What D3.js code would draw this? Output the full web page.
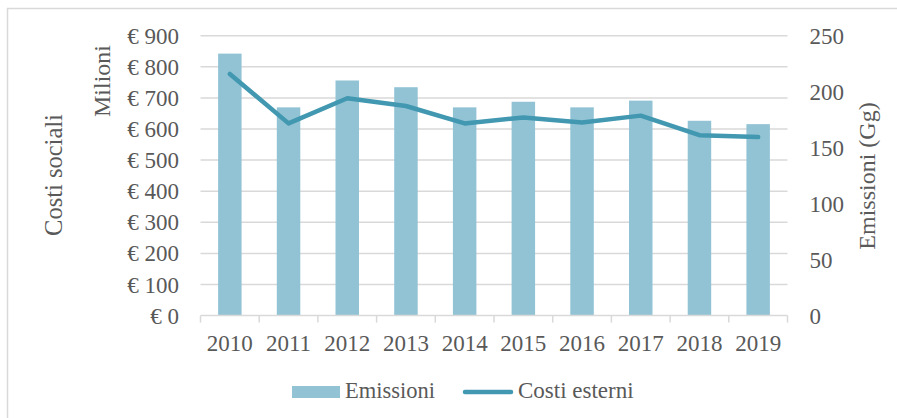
<!DOCTYPE html>
<html>
<head>
<meta charset="utf-8">
<script src="https://cdn.jsdelivr.net/npm/d3@7"></script>
<style>
  html, body { margin: 0; padding: 0; background: #fff; overflow: hidden; }
  svg { display: block; }
  text { font-family: "Liberation Serif", "Times New Roman", serif; fill: #595959; }
</style>
</head>
<body>
<svg id="chart" width="897" height="418"></svg>
<script>
// Annual data
const years = ["2010","2011","2012","2013","2014","2015","2016","2017","2018","2019"];
const emissioni = [234, 186, 210, 204, 186, 191, 186, 192, 174, 171];      // Gg
const costiEsterni = [777, 618, 699, 674, 618, 637, 621, 643, 580, 574];   // € milioni
const leftTicks = [0, 100, 200, 300, 400, 500, 600, 700, 800, 900];
const rightTicks = [0, 50, 100, 150, 200, 250];

const barColor = "#92c3d5";
const lineColor = "#4198b0";
const gridColor = "#d9d9d9";

const svg = d3.select("#chart");
const W = 897, H = 418;
const m = { left: 200.5, right: 109.5, top: 35.7, bottom: 102.4 };
const plotW = W - m.left - m.right;
const plotH = H - m.top - m.bottom;

// chart frame (runs past the right and bottom edges of the view)
svg.append("rect")
  .attr("x", 7.5).attr("y", 8.5).attr("width", 1000).attr("height", 1000)
  .attr("fill", "#fff").attr("stroke", gridColor).attr("stroke-width", 1.5);

const g = svg.append("g").attr("transform", `translate(${m.left},${m.top})`);

const x = d3.scaleBand().domain(years).range([0, plotW]).paddingInner(0.6).paddingOuter(0.3);
const xBand = d3.scaleBand().domain(years).range([0, plotW]);
const yL = d3.scaleLinear().domain([0, 900]).range([plotH, 0]);
const yR = d3.scaleLinear().domain([0, 250]).range([plotH, 0]);

// horizontal gridlines (left axis)
g.append("g").selectAll("line").data(leftTicks.filter(d => d > 0)).join("line")
  .attr("x1", 0).attr("x2", plotW)
  .attr("y1", d => yL(d)).attr("y2", d => yL(d))
  .attr("stroke", gridColor).attr("stroke-width", 1.5);

// bars: emissions on right axis
g.append("g").selectAll("rect").data(years).join("rect")
  .attr("x", d => x(d))
  .attr("width", x.bandwidth())
  .attr("y", (d, i) => yR(emissioni[i]))
  .attr("height", (d, i) => plotH - yR(emissioni[i]))
  .attr("fill", barColor);

// x axis line and category ticks
const xAxis = g.append("g").attr("transform", `translate(0,${plotH})`);
xAxis.append("line").attr("x1", 0).attr("x2", plotW).attr("y1", 0).attr("y2", 0)
  .attr("stroke", gridColor).attr("stroke-width", 1.5);
const boundaries = years.map(d => xBand(d)).concat([plotW]);
xAxis.selectAll("line.tick").data(boundaries).join("line").attr("class", "tick")
  .attr("x1", d => d).attr("x2", d => d).attr("y1", 0).attr("y2", 7)
  .attr("stroke", gridColor).attr("stroke-width", 1.5);
xAxis.selectAll("text").data(years).join("text")
  .attr("x", d => xBand(d) + xBand.bandwidth() / 2)
  .attr("y", 35.5)
  .attr("text-anchor", "middle")
  .attr("font-size", 23)
  .text(d => d);

// line: external costs on left axis
const line = d3.line()
  .x((d, i) => xBand(years[i]) + xBand.bandwidth() / 2)
  .y(d => yL(d));
g.append("path").datum(costiEsterni)
  .attr("d", line)
  .attr("fill", "none")
  .attr("stroke", lineColor)
  .attr("stroke-width", 4.5)
  .attr("stroke-linejoin", "round")
  .attr("stroke-linecap", "round");

// left axis labels
const euro = d => "€ " + d;
g.append("g").selectAll("text").data(leftTicks).join("text")
  .attr("x", -21.5).attr("y", d => yL(d)).attr("dy", "0.35em")
  .attr("text-anchor", "end").attr("font-size", 23)
  .text(euro);

// right axis labels
g.append("g").selectAll("text").data(rightTicks).join("text")
  .attr("x", plotW + 22).attr("y", d => yR(d)).attr("dy", "0.35em")
  .attr("text-anchor", "start").attr("font-size", 23)
  .text(d => d);

// axis titles
svg.append("text").attr("transform", "translate(62,175) rotate(-90)")
  .attr("text-anchor", "middle").attr("font-size", 24.5).text("Costi sociali");
svg.append("text").attr("transform", "translate(110,81) rotate(-90)")
  .attr("text-anchor", "middle").attr("font-size", 24).text("Milioni");
svg.append("text").attr("transform", "translate(875,176) rotate(-90)")
  .attr("text-anchor", "middle").attr("font-size", 24).text("Emissioni (Gg)");

// legend
const lg = svg.append("g");
lg.append("rect").attr("x", 292).attr("y", 386).attr("width", 48).attr("height", 12).attr("fill", barColor);
lg.append("text").attr("x", 345).attr("y", 398).attr("font-size", 22.5).text("Emissioni");
lg.append("line").attr("x1", 465).attr("x2", 511).attr("y1", 392).attr("y2", 392)
  .attr("stroke", lineColor).attr("stroke-width", 4.5).attr("stroke-linecap", "round");
lg.append("text").attr("x", 518).attr("y", 398).attr("font-size", 23).text("Costi esterni");
</script>
</body>
</html>
